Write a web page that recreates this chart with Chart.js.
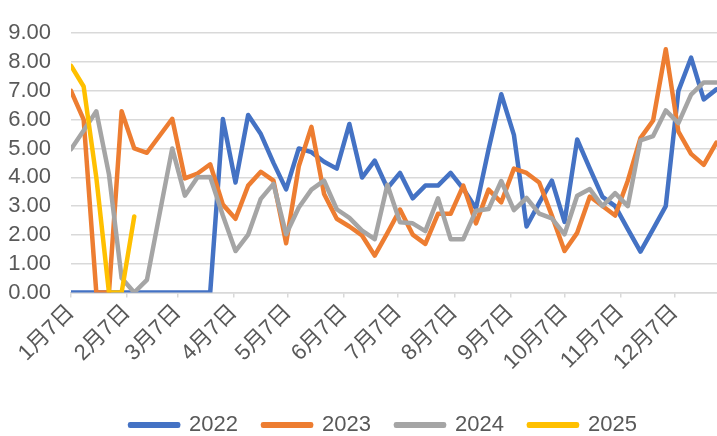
<!DOCTYPE html>
<html><head><meta charset="utf-8">
<script src="https://cdn.jsdelivr.net/npm/chart.js@4/dist/chart.umd.min.js"></script>
<style>
html,body{margin:0;padding:0;background:#fff;overflow:hidden;width:717px;height:436px;}
#wrap{position:absolute;left:0;top:0;width:767px;height:446px;}
</style></head><body>
<div id="wrap"><canvas id="c" width="767" height="446"></canvas></div>
<script>
const seriesNames = ['2022', '2023', '2024', '2025'];
const values2022 = [0,0,0,0,0,0,0,0,0,0,0,0,6.02,3.82,6.16,5.5,4.5,3.58,5.0,4.87,4.54,4.3,5.85,3.99,4.58,3.62,4.15,3.27,3.71,3.71,4.15,3.6,2.92,4.97,6.88,5.47,2.29,3.11,3.88,2.45,5.31,4.3,3.32,3.0,2.2,1.42,2.2,3.0,7.0,8.15,6.7,7.05];
const values2023 = [7.0,6.0,0,0,6.29,5.0,4.85,5.44,6.03,3.96,4.13,4.45,3.05,2.56,3.71,4.19,3.88,1.71,4.38,5.75,3.42,2.56,2.29,1.98,1.28,2.06,2.88,2.01,1.69,2.73,2.73,3.71,2.4,3.57,3.13,4.3,4.15,3.82,2.67,1.44,2.07,3.33,3.0,2.67,3.88,5.36,5.97,8.44,5.58,4.81,4.43,5.2];
const values2024 = [4.97,5.62,6.29,4.1,0.5,0,0.44,2.73,5.0,3.36,4.0,4.01,2.67,1.44,2.01,3.25,3.77,2.02,2.95,3.57,3.88,2.89,2.59,2.15,1.85,3.74,2.44,2.4,2.13,3.27,1.85,1.85,2.84,2.9,3.87,2.86,3.28,2.74,2.57,2.02,3.36,3.59,3.0,3.45,3.0,5.28,5.43,6.32,5.88,6.87,7.29,7.29];
const values2025 = [7.87,7.15,3.99,0,0,2.64];
const seriesValues = [values2022, values2023, values2024, values2025];
const seriesColors = ['#4472C4', '#ED7D31', '#A5A5A5', '#FFC000'];
const daysPerWeek = 7;
const monthTickDays = [0, 31, 59, 90, 120, 151, 181, 212, 243, 273, 304, 334];
const monthTickLabels = ['1月7日','2月7日','3月7日','4月7日','5月7日','6月7日','7月7日','8月7日','9月7日','10月7日','11月7日','12月7日'];
const yMin = 0, yMax = 9, yStep = 1;

const font = {family: "'Liberation Sans', 'Noto Sans CJK SC', sans-serif", size: 22};
const textColor = '#595959';
const gridColor = '#d9d9d9';

const datasets = seriesNames.map((name, i) => ({
  label: name,
  data: seriesValues[i].map((v, k) => ({x: k * daysPerWeek, y: v})),
  borderColor: seriesColors[i],
  backgroundColor: seriesColors[i],
  borderWidth: 4.5,
  pointRadius: 0,
  tension: 0,
  borderJoinStyle: 'round',
  borderCapStyle: 'round',
  order: seriesNames.length - 1 - i
}));

new Chart(document.getElementById('c'), {
  type: 'line',
  data: {datasets},
  options: {
    responsive: false,
    animation: false,
    events: [],
    layout: {padding: {top: 18, right: 0, left: 0, bottom: 0}},
    plugins: {
      tooltip: {enabled: false},
      legend: {
        position: 'bottom',
        labels: {
          boxWidth: 48, boxHeight: 1.5, padding: 25,
          color: textColor, font: font,
          sort: (a, b) => a.datasetIndex - b.datasetIndex
        }
      }
    },
    scales: {
      x: {
        type: 'linear', min: 0, max: 385,
        grid: {drawOnChartArea: false, drawTicks: true, tickLength: 5, color: gridColor, lineWidth: 1.5},
        border: {display: true, color: gridColor, width: 1.5},
        ticks: {
          autoSkip: false, maxRotation: 45, minRotation: 45, padding: 2,
          color: textColor, font: font,
          callback: (v) => { const i = monthTickDays.indexOf(v); return i >= 0 ? monthTickLabels[i] : ''; }
        },
        afterBuildTicks: (s) => { s.ticks = monthTickDays.map(v => ({value: v})); },
        afterFit: (s) => { s.height = 96.5; s.paddingLeft = 0; s.paddingRight = 0; }
      },
      y: {
        min: yMin, max: yMax,
        ticks: {stepSize: yStep, autoSkip: false, padding: 20, color: textColor, font: font, callback: (v) => Number(v).toFixed(2)},
        grid: {color: gridColor, lineWidth: 1.5, drawTicks: false},
        border: {display: false},
        afterFit: (s) => { s.width = 71; }
      }
    }
  }
});
</script>
</body></html>
